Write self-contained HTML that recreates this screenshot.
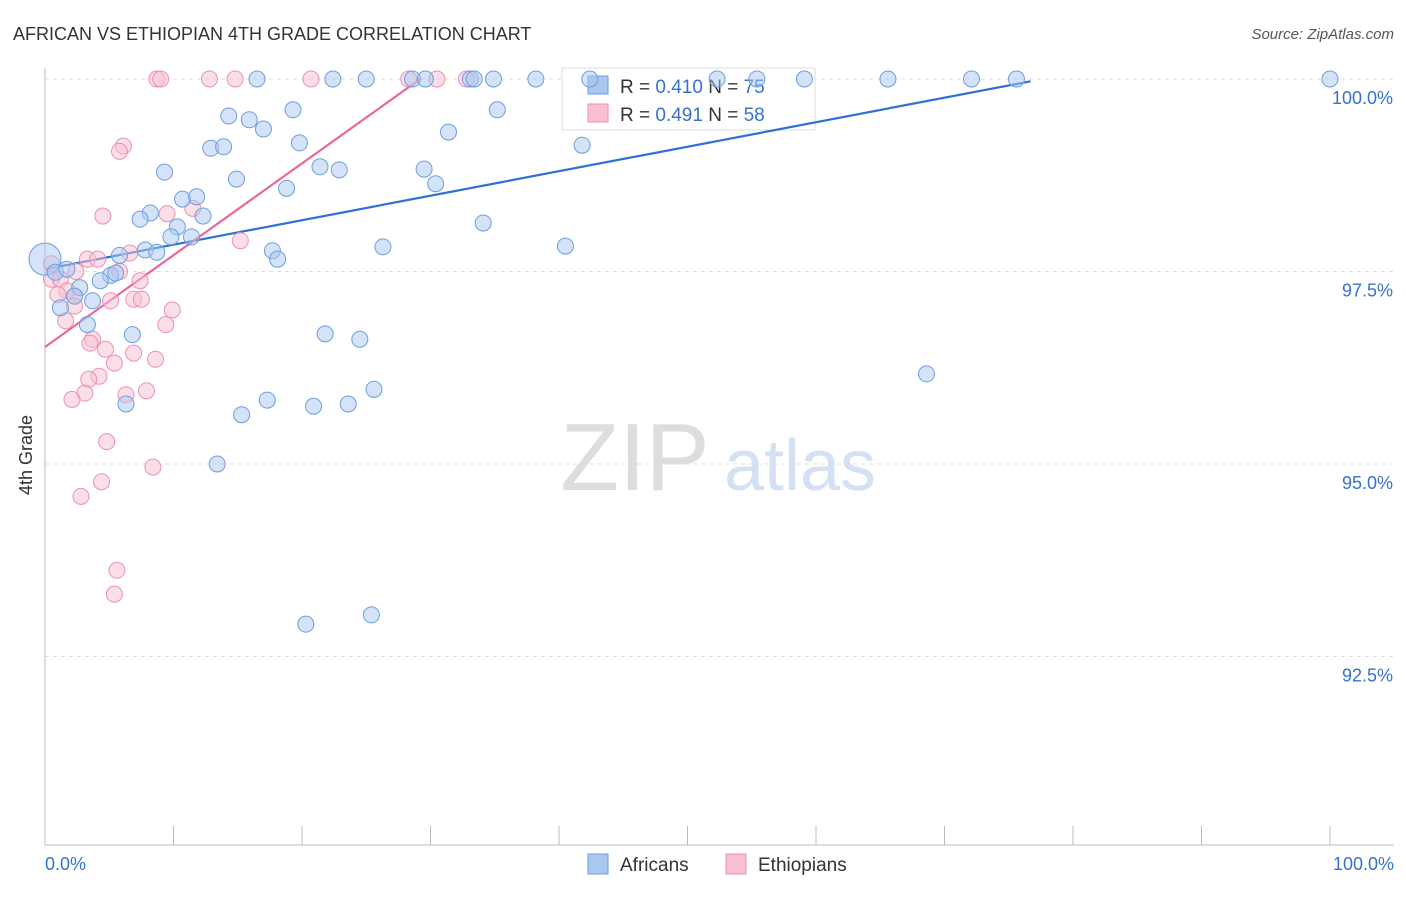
<!DOCTYPE html>
<html><head><meta charset="utf-8"><style>
body{margin:0;background:#fff;font-family:"Liberation Sans",sans-serif;}
svg text{font-family:"Liberation Sans",sans-serif;}
</style></head><body>
<svg id="chart" width="1406" height="892" xmlns="http://www.w3.org/2000/svg">
<text x="13" y="40" font-size="18" fill="#333">AFRICAN VS ETHIOPIAN 4TH GRADE CORRELATION CHART</text>
<text x="1394" y="39" font-size="15" fill="#555" font-style="italic" text-anchor="end">Source: ZipAtlas.com</text>
<text x="32" y="455" font-size="18" fill="#333" transform="rotate(-90 32 455)" text-anchor="middle">4th Grade</text>
<g>
<text x="635" y="490" font-size="96" fill="#ddd" font-family="Liberation Serif" text-anchor="middle">ZIP</text>
<text x="800" y="490" font-size="72" fill="#d3e1f3" text-anchor="middle">atlas</text>
</g>
<g id="grid"></g><g id="axes"></g>
<g>
<rect x="562" y="68" width="253" height="62" fill="#fff" stroke="#ddd"/>
<rect x="588" y="76" width="20" height="18" fill="#a9c7ef" stroke="#6d9ee0"/>
<rect x="588" y="104" width="20" height="18" fill="#f8c0d2" stroke="#ee90ae"/>
<text x="620" y="93" font-size="19" fill="#333">R = <tspan fill="#3571d0">0.410</tspan>   N = <tspan fill="#3571d0">75</tspan></text>
<text x="620" y="121" font-size="19" fill="#333">R = <tspan fill="#3571d0">0.491</tspan>   N = <tspan fill="#3571d0">58</tspan></text>
</g>
<g id="lines"></g><g id="pts"></g>
<g>
<rect x="588" y="854" width="20" height="20" fill="#a9c7ef" stroke="#6d9ee0"/>
<text x="620" y="871" font-size="19" fill="#333">Africans</text>
<rect x="726" y="854" width="20" height="20" fill="#f8c0d2" stroke="#ee90ae"/>
<text x="758" y="871" font-size="19" fill="#333">Ethiopians</text>
</g>
</svg>
<script>
const yTicks=[100,97.5,95,92.5];
const yTickLabels=["100.0%","97.5%","95.0%","92.5%"];
const xEndLabels=["0.0%","100.0%"];
const afrX=[0,16.5,22.4,25.0,28.6,29.6,33.1,33.4,34.9,38.2,42.4,52.3,55.4,59.1,65.6,72.1,75.6,100,14.3,15.9,17.0,19.3,12.9,13.9,19.8,9.3,14.9,21.4,22.9,29.5,30.4,31.4,35.2,41.8,18.8,10.7,11.8,8.2,7.4,12.3,10.3,9.8,11.4,7.8,8.7,5.8,17.7,18.1,26.3,34.1,40.5,5.1,5.5,0.8,1.7,4.3,2.7,2.3,3.7,1.2,3.3,6.8,21.8,24.5,68.6,25.6,6.3,17.3,20.9,23.6,15.3,13.4,20.3,25.4];
const afrY=[97.66,100,100,100,100,100,100,100,100,100,100,100,100,100,100,100,100,100,99.52,99.47,99.35,99.6,99.10,99.12,99.17,98.79,98.70,98.86,98.82,98.83,98.64,99.31,99.6,99.14,98.58,98.44,98.47,98.26,98.18,98.22,98.08,97.95,97.95,97.78,97.75,97.71,97.77,97.66,97.82,98.13,97.83,97.45,97.48,97.49,97.53,97.38,97.29,97.18,97.12,97.03,96.81,96.68,96.69,96.62,96.17,95.97,95.78,95.83,95.75,95.78,95.64,95.0,92.92,93.04];
const ethX=[8.7,9.0,12.8,14.8,20.7,28.3,30.5,32.8,6.1,5.8,4.5,11.5,9.5,15.2,0.5,3.3,4.1,6.6,5.8,2.4,0.5,1.2,7.4,1.7,1.0,2.3,5.1,6.9,7.5,2.3,9.9,1.6,9.4,3.7,3.5,4.7,6.9,8.6,5.4,4.2,3.4,6.3,7.9,3.1,2.1,4.8,8.4,4.4,2.8,5.6,5.4];
const ethY=[100,100,100,100,100,100,100,100,99.13,99.06,98.22,98.32,98.25,97.9,97.6,97.66,97.66,97.74,97.5,97.5,97.4,97.4,97.38,97.25,97.2,97.18,97.12,97.14,97.14,97.05,97.0,96.86,96.81,96.62,96.57,96.49,96.44,96.36,96.31,96.14,96.10,95.90,95.95,95.92,95.84,95.29,94.96,94.77,94.58,93.62,93.31];
const afrTrend=[[0,97.53],[76.7,99.97]];
const ethTrend=[[0,96.52],[29.2,100]];
const NS="http://www.w3.org/2000/svg";
const X=v=>45+v*12.85, Y=v=>79+(100-v)*77;
function mk(t,a,p){const e=document.createElementNS(NS,t);for(const k in a)e.setAttribute(k,a[k]);p.appendChild(e);return e;}
const grid=document.getElementById('grid'),axes=document.getElementById('axes');
yTicks.forEach((t,i)=>{
 const l=mk('line',{x1:45,x2:1394,y1:Y(t),y2:Y(t),stroke:'#ddd','stroke-dasharray':'4 4'},grid);
 
 
 const tx=mk('text',{x:1393,y:Y(t)+25,'font-size':18,fill:'#3571d0','text-anchor':'end'},axes);
 tx.textContent=yTickLabels[i];
 
 
});
const ax=mk('line',{x1:45,x2:45,y1:68,y2:845,stroke:'#bbb'},axes);


const bx=mk('line',{x1:45,x2:1394,y1:845,y2:845,stroke:'#bbb'},axes);


for(let i=0;i<=10;i++){const t=mk('line',{x1:X(i*10),x2:X(i*10),y1:826,y2:845,stroke:'#bbb'},axes);
 
 }
[[0,'start',45],[1,'end',1394]].forEach(([i,a,x])=>{const t=mk('text',{x:x,y:870,'font-size':18,fill:'#3571d0','text-anchor':a},axes);t.textContent=xEndLabels[i];
 
 });
const pts=document.getElementById('pts'),lines=document.getElementById('lines');
function dots(xs,ys,fill,stroke,name){xs.forEach((x,i)=>{const c=mk('circle',{cx:X(x),cy:Y(ys[i]),r:(i==0&&name=='africans-point')?16:8,fill:fill,'fill-opacity':0.5,stroke:stroke,'stroke-width':1},pts);
 
 });}
dots(ethX,ethY,'#f8c0d2','#ee90ae','ethiopians-point');
dots(afrX,afrY,'#a9c7ef','#6d9ee0','africans-point');
function tl(tr,col,name){const l=mk('line',{x1:X(tr[0][0]),y1:Y(tr[0][1]),x2:X(tr[1][0]),y2:Y(tr[1][1]),stroke:col,'stroke-width':2.2},lines);
 
 }
tl(afrTrend,'#2f6fd6','africans-trendline');
tl(ethTrend,'#e8679a','ethiopians-trendline');
</script>
</body></html>
